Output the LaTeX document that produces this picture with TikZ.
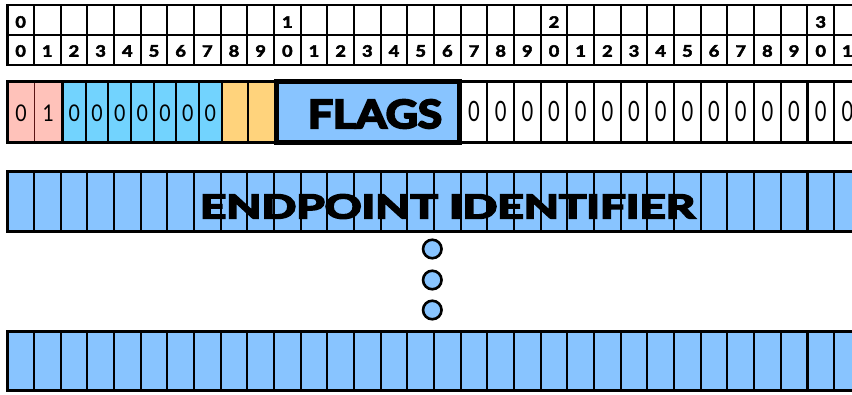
\documentclass[tikz,border=0pt]{standalone}
\usepackage{fontspec}
\setmainfont{Lato}
\newfontfamily\heavyfont{Lato}[BoldFeatures={FakeBold=5}]
\newfontfamily\midfont{Lato}[BoldFeatures={FakeBold=3}]
\definecolor{pinkc}{HTML}{FFC2BA}
\definecolor{cyanc}{HTML}{72D3FE}
\definecolor{orangec}{HTML}{FFD37C}
\definecolor{bluec}{HTML}{88C4FF}
\definecolor{darkredc}{HTML}{5A1414}
\tikzset{
  hd/.style={inner sep=0pt},
  zl/.style={inner sep=0pt},
  divline/.style={line width=2.2pt, draw=black},
  rowframe/.style={line width=3pt, draw=black},
  dotc/.style={circle, draw=black, line width=2.6pt, fill=bluec, minimum size=18.5pt, inner sep=0pt}
}
\newcommand{\hdig}[1]{\scalebox{1.15}[1]{\resizebox{!}{11.5pt}{\midfont\bfseries #1}}}
\newcommand{\smallzero}[1]{\scalebox{0.85}[1]{\fontsize{23}{23}\selectfont #1}}
\newcommand{\bigzero}[1]{\scalebox{0.72}[1]{\fontsize{28}{28}\selectfont #1}}
\begin{document}
\begin{tikzpicture}[x=1pt,y=-1pt]
\useasboundingbox (0,0) rectangle (852,394);
\clip (0,0) rectangle (852,394);
\def\xo{7.3}\def\cw{26.67}
% ---------- header ----------
\foreach \i in {1,...,31} \draw[line width=2pt] ({\xo+\i*\cw},5) -- ({\xo+\i*\cw},65);
\draw[line width=2pt] (\xo,35) -- (860.7,35);
\draw[line width=2.8pt] (\xo,5) rectangle (860.7,65);
\foreach \i in {0,...,31}{
  \pgfmathtruncatemacro\d{mod(\i,10)}
  \node[hd] (b\i) at ({\xo+(\i+0.5)*\cw},51) {\hdig{\d}};
}
\foreach \i/\t in {0/0,10/1,20/2,30/3}
  \node[hd] (t\i) at ({\xo+(\i+0.5)*\cw},22) {\hdig{\t}};
% ---------- flags row ----------
\fill[pinkc] (\xo,81) rectangle (62.5,142);
\fill[cyanc] (62.5,81) rectangle (221.7,142);
\fill[orangec] (221.7,81) rectangle (274,142);
\fill[bluec] (274,81) rectangle (461,142);
\draw[line width=1.6pt, draw=darkredc] (34.5,81) -- (34.5,142);
\draw[line width=3pt] (62.5,81) -- (62.5,142);
\foreach \x in {85.7,108.3,131,153.7,176.3,199} \draw[divline] (\x,81) -- (\x,142);
\draw[line width=2pt] (221.7,81) -- (221.7,142);
\draw[line width=2pt] (247.5,81) -- (247.5,142);
\foreach \i in {18,...,31} \draw[divline] ({\xo+\i*\cw},81) -- ({\xo+\i*\cw},142);
\draw[rowframe] (\xo,81) rectangle (860.7,142);
\draw[line width=5pt] (276.5,81.5) rectangle (459.2,142.5);
\node[zl] (p0) at (21,113) {\smallzero{0}};
\node[zl] (p1) at (48.2,113) {\smallzero{1}};
\foreach \k in {0,...,6}
  \node[zl] (c\k) at ({63+22.67*(\k+0.5)},113) {\smallzero{0}};
\foreach \i in {17,...,31}
  \node[zl] (z\i) at ({\xo+(\i+0.5)*\cw},111.5) {\bigzero{0}};
\node[inner sep=0pt] (flags) at (375,114) {\resizebox{134pt}{28.5pt}{\heavyfont\bfseries FLAGS}};
% ---------- endpoint identifier row ----------
\fill[bluec] (\xo,171.5) rectangle (860.7,231.5);
\foreach \i in {1,...,31} \draw[divline] ({\xo+\i*\cw},171.5) -- ({\xo+\i*\cw},231.5);
\draw[rowframe] (\xo,171.5) rectangle (860.7,231.5);
\node[inner sep=0pt] (eid) at (447.5,206.5) {\resizebox{495pt}{24pt}{\heavyfont\bfseries ENDPOINT IDENTIFIER}};
% ---------- dots ----------
\node[dotc] (d1) at (432.3,249) {};
\node[dotc] (d2) at (432.3,280) {};
\node[dotc] (d3) at (432.3,310) {};
% ---------- bottom row ----------
\fill[bluec] (\xo,331) rectangle (860.7,390.5);
\foreach \i in {1,...,31} \draw[divline] ({\xo+\i*\cw},331) -- ({\xo+\i*\cw},390.5);
\draw[rowframe] (\xo,331) rectangle (860.7,390.5);
\end{tikzpicture}
\end{document}
